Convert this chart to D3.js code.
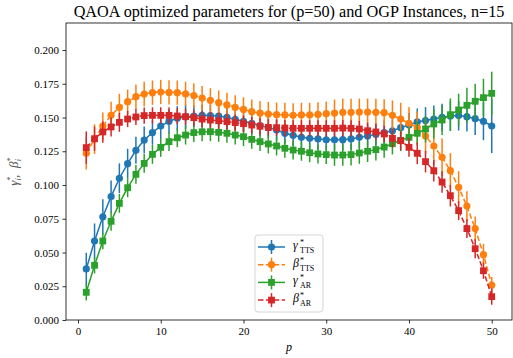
<!DOCTYPE html>
<html>
<head>
<meta charset="utf-8">
<script src="https://cdn.jsdelivr.net/npm/d3@7"></script>
<style>
  html, body { margin: 0; padding: 0; background: #fff; }
  svg { display: block; }
</style>
</head>
<body>
<div id="chart"></div>
<script>
// layer p = 1..50
const layers = d3.range(1, 51);

const gammaTTS = [0.0378, 0.0585, 0.0765, 0.0914, 0.105, 0.1158, 0.1257, 0.1333, 0.1388, 0.1437,
  0.1472, 0.1494, 0.1506, 0.151, 0.1516, 0.1515, 0.1511, 0.1501, 0.1486, 0.1472,
  0.1457, 0.144, 0.1425, 0.1407, 0.1383, 0.1368, 0.1353, 0.1346, 0.1341, 0.1335,
  0.1335, 0.1336, 0.1341, 0.1353, 0.1363, 0.1375, 0.1388, 0.1402, 0.1425, 0.1444,
  0.1467, 0.1477, 0.1489, 0.1501, 0.1511, 0.1514, 0.1506, 0.1491, 0.1472, 0.1437];
const gammaTTSErr = [0.012, 0.013, 0.013, 0.012, 0.011, 0.011, 0.010, 0.010, 0.009, 0.009,
  0.009, 0.009, 0.009, 0.008, 0.008, 0.008, 0.008, 0.008, 0.008, 0.008,
  0.008, 0.008, 0.008, 0.008, 0.008, 0.008, 0.008, 0.008, 0.008, 0.008,
  0.008, 0.008, 0.008, 0.008, 0.008, 0.008, 0.009, 0.009, 0.009, 0.009,
  0.010, 0.010, 0.010, 0.010, 0.011, 0.011, 0.011, 0.012, 0.014, 0.020];

const betaTTS = [0.1235, 0.134, 0.1437, 0.1516, 0.1575, 0.1617, 0.1654, 0.1674, 0.1684, 0.1689,
  0.1686, 0.1684, 0.1675, 0.1663, 0.1644, 0.1627, 0.161, 0.1593, 0.1575, 0.156,
  0.1543, 0.1533, 0.1526, 0.1521, 0.1519, 0.1516, 0.1519, 0.1519, 0.1523, 0.1528,
  0.1533, 0.1538, 0.1538, 0.154, 0.154, 0.1538, 0.1536, 0.1516, 0.1489, 0.1457,
  0.1425, 0.1363, 0.1289, 0.1205, 0.1106, 0.0983, 0.0844, 0.0677, 0.0484, 0.0259];
const betaTTSErr = [0.012, 0.011, 0.010, 0.010, 0.010, 0.009, 0.009, 0.009, 0.009, 0.009,
  0.009, 0.009, 0.009, 0.009, 0.009, 0.009, 0.009, 0.009, 0.009, 0.009,
  0.009, 0.009, 0.009, 0.009, 0.009, 0.009, 0.009, 0.009, 0.009, 0.009,
  0.010, 0.010, 0.010, 0.010, 0.010, 0.010, 0.010, 0.011, 0.012, 0.012,
  0.012, 0.013, 0.014, 0.014, 0.013, 0.012, 0.011, 0.009, 0.008, 0.006];

const gammaAR = [0.0205, 0.0405, 0.0585, 0.0731, 0.0864, 0.098, 0.1079, 0.116, 0.1227, 0.1279,
  0.1321, 0.135, 0.137, 0.1388, 0.1394, 0.1395, 0.139, 0.1383, 0.137, 0.1358,
  0.1338, 0.1321, 0.1304, 0.1289, 0.1272, 0.1259, 0.125, 0.1239, 0.123, 0.1225,
  0.1222, 0.1222, 0.1225, 0.1237, 0.125, 0.1262, 0.1281, 0.1306, 0.1331, 0.1353,
  0.1383, 0.1415, 0.1452, 0.1481, 0.1521, 0.1556, 0.159, 0.162, 0.1647, 0.1679];
const gammaARErr = [0.006, 0.006, 0.006, 0.007, 0.007, 0.007, 0.007, 0.007, 0.007, 0.007,
  0.007, 0.007, 0.007, 0.007, 0.007, 0.007, 0.007, 0.007, 0.007, 0.007,
  0.007, 0.007, 0.007, 0.007, 0.007, 0.007, 0.007, 0.007, 0.007, 0.007,
  0.008, 0.008, 0.008, 0.008, 0.008, 0.008, 0.008, 0.008, 0.008, 0.008,
  0.009, 0.010, 0.011, 0.011, 0.012, 0.012, 0.013, 0.013, 0.014, 0.016];

const betaAR = [0.1277, 0.1343, 0.1393, 0.143, 0.1464, 0.1489, 0.1504, 0.1514, 0.1516, 0.1516,
  0.1516, 0.1511, 0.1506, 0.1499, 0.1488, 0.1481, 0.1476, 0.1469, 0.1462, 0.1454,
  0.1444, 0.1435, 0.1427, 0.1425, 0.1422, 0.142, 0.142, 0.142, 0.142, 0.142,
  0.142, 0.1422, 0.142, 0.1415, 0.1402, 0.1393, 0.1378, 0.1346, 0.1328, 0.1279,
  0.1235, 0.1173, 0.1106, 0.1022, 0.0921, 0.081, 0.0677, 0.0528, 0.0365, 0.0173];
const betaARErr = [0.012, 0.009, 0.008, 0.007, 0.007, 0.006, 0.006, 0.006, 0.006, 0.006,
  0.006, 0.006, 0.006, 0.006, 0.006, 0.006, 0.006, 0.006, 0.006, 0.006,
  0.006, 0.006, 0.006, 0.006, 0.006, 0.006, 0.006, 0.006, 0.006, 0.006,
  0.006, 0.006, 0.006, 0.006, 0.006, 0.006, 0.006, 0.007, 0.007, 0.007,
  0.008, 0.008, 0.008, 0.008, 0.008, 0.007, 0.007, 0.007, 0.006, 0.006];

const xTicks = [0, 10, 20, 30, 40, 50];
const yTicks = [0, 0.025, 0.05, 0.075, 0.1, 0.125, 0.15, 0.175, 0.2];

const titleText = 'QAOA optimized parameters for (p=50) and OGP Instances, n=15';

const series = [
  { sym: 'γ', sub: 'TTS', values: gammaTTS, err: gammaTTSErr, color: '#1f77b4', marker: 'circle', dashed: false },
  { sym: 'β', sub: 'TTS', values: betaTTS, err: betaTTSErr, color: '#ff7f0e', marker: 'circle', dashed: true },
  { sym: 'γ', sub: 'AR', values: gammaAR, err: gammaARErr, color: '#2ca02c', marker: 'square', dashed: false },
  { sym: 'β', sub: 'AR', values: betaAR, err: betaARErr, color: '#d62728', marker: 'square', dashed: true }
];

const width = 513, height = 358;
const margin = { top: 23, right: 1, bottom: 38, left: 66 };
const serif = "'Liberation Serif', 'DejaVu Serif', serif";

const svg = d3.select('#chart').append('svg')
  .attr('width', width)
  .attr('height', height);

const x = d3.scaleLinear().domain([-1.45, 52.45]).range([margin.left, width - margin.right]);
const y = d3.scaleLinear().domain([0, 0.22]).range([height - margin.bottom, margin.top]);

svg.append('defs').append('clipPath').attr('id', 'plot-clip')
  .append('rect')
  .attr('x', margin.left).attr('y', margin.top)
  .attr('width', width - margin.left - margin.right)
  .attr('height', height - margin.top - margin.bottom);

// axes
const xAxis = svg.append('g')
  .attr('transform', `translate(0,${height - margin.bottom})`)
  .call(d3.axisBottom(x).tickValues(xTicks).tickSize(3.5).tickPadding(3.5).tickFormat(d3.format('d')));

const yAxis = svg.append('g')
  .attr('transform', `translate(${margin.left},0)`)
  .call(d3.axisLeft(y).tickValues(yTicks).tickSize(3.5).tickPadding(3.5).tickFormat(d3.format('.3f')));

[xAxis, yAxis].forEach(a => {
  a.select('.domain').remove();
  a.selectAll('line').attr('stroke', '#000').attr('stroke-width', 0.8);
  a.selectAll('text').attr('font-family', serif).attr('font-size', 11).attr('fill', '#000');
});

// data
const plot = svg.append('g').attr('clip-path', 'url(#plot-clip)');

series.forEach(s => {
  const g = plot.append('g');
  const pts = layers.map((p, i) => ({ p, v: s.values[i], e: s.err[i] }));

  g.selectAll('line.err').data(pts).enter().append('line')
    .attr('class', 'err')
    .attr('x1', d => x(d.p)).attr('x2', d => x(d.p))
    .attr('y1', d => y(d.v - d.e)).attr('y2', d => y(d.v + d.e))
    .attr('stroke', s.color).attr('stroke-width', 1.5);

  g.append('path')
    .datum(pts)
    .attr('fill', 'none')
    .attr('stroke', s.color)
    .attr('stroke-width', 1.5)
    .attr('stroke-dasharray', s.dashed ? '5.5,2.4' : null)
    .attr('d', d3.line().x(d => x(d.p)).y(d => y(d.v)));

  if (s.marker === 'circle') {
    g.selectAll('circle').data(pts).enter().append('circle')
      .attr('cx', d => x(d.p)).attr('cy', d => y(d.v))
      .attr('r', 3.6).attr('fill', s.color);
  } else {
    g.selectAll('rect').data(pts).enter().append('rect')
      .attr('x', d => x(d.p) - 3.4).attr('y', d => y(d.v) - 3.4)
      .attr('width', 6.8).attr('height', 6.8).attr('fill', s.color);
  }
});

// frame
svg.append('rect')
  .attr('x', margin.left).attr('y', margin.top)
  .attr('width', width - margin.left - margin.right)
  .attr('height', height - margin.top - margin.bottom)
  .attr('fill', 'none').attr('stroke', '#000').attr('stroke-width', 0.8);

// title, fitted to the width it has in the reference
const title = svg.append('text')
  .attr('x', (margin.left + width - margin.right) / 2)
  .attr('y', 17)
  .attr('text-anchor', 'middle')
  .attr('font-family', serif)
  .attr('font-size', 14)
  .text(titleText);
const tw = title.node().getComputedTextLength();
title.attr('font-size', 14 * 431 / tw);

// axis labels
svg.append('text')
  .attr('x', (margin.left + width - margin.right) / 2)
  .attr('y', 351)
  .attr('text-anchor', 'middle')
  .attr('font-family', serif)
  .attr('font-style', 'italic')
  .attr('font-size', 12)
  .text('p');

const yl = svg.append('text')
  .attr('transform', `translate(18,${(margin.top + height - margin.bottom) / 2}) rotate(-90)`)
  .attr('text-anchor', 'middle')
  .attr('font-family', serif)
  .attr('font-size', 13)
  .attr('fill', '#555');
yl.append('tspan').attr('font-style', 'italic').text('γ');
yl.append('tspan').attr('font-size', 8.5).attr('dy', -5).text('*');
yl.append('tspan').attr('font-size', 8.5).attr('font-style', 'italic').attr('dx', -4).attr('dy', 8).text('i');
yl.append('tspan').attr('dy', -3).text(',');
yl.append('tspan').attr('font-style', 'italic').attr('dx', 7).text('β');
yl.append('tspan').attr('font-size', 8.5).attr('dy', -5).text('*');
yl.append('tspan').attr('font-size', 8.5).attr('font-style', 'italic').attr('dx', -4).attr('dy', 8).text('i');

// legend
const legend = svg.append('g').attr('transform', 'translate(255,235)');
legend.append('rect')
  .attr('width', 68).attr('height', 77)
  .attr('rx', 3).attr('ry', 3)
  .attr('fill', '#fff').attr('fill-opacity', 0.8)
  .attr('stroke', '#ccc').attr('stroke-width', 0.8);

series.forEach((s, i) => {
  const row = legend.append('g').attr('transform', `translate(0,${12 + i * 17.7})`);
  row.append('line')
    .attr('x1', 3).attr('x2', 30).attr('y1', 0).attr('y2', 0)
    .attr('stroke', s.color).attr('stroke-width', 1.5)
    .attr('stroke-dasharray', s.dashed ? '5.5,2.4' : null);
  row.append('line')
    .attr('x1', 16.5).attr('x2', 16.5).attr('y1', -7).attr('y2', 7)
    .attr('stroke', s.color).attr('stroke-width', 1.5);
  if (s.marker === 'circle') {
    row.append('circle').attr('cx', 16.5).attr('cy', 0).attr('r', 3.6).attr('fill', s.color);
  } else {
    row.append('rect').attr('x', 13.1).attr('y', -3.4).attr('width', 6.8).attr('height', 6.8).attr('fill', s.color);
  }
  row.append('text')
    .attr('x', 38).attr('y', 2)
    .attr('font-family', serif).attr('font-style', 'italic').attr('font-size', 12)
    .text(s.sym);
  row.append('text')
    .attr('x', 45).attr('y', -2)
    .attr('font-family', serif).attr('font-size', 8)
    .text('*');
  row.append('text')
    .attr('x', 45).attr('y', 6)
    .attr('font-family', serif).attr('font-size', 8)
    .text(s.sub);
});
</script>
</body>
</html>
